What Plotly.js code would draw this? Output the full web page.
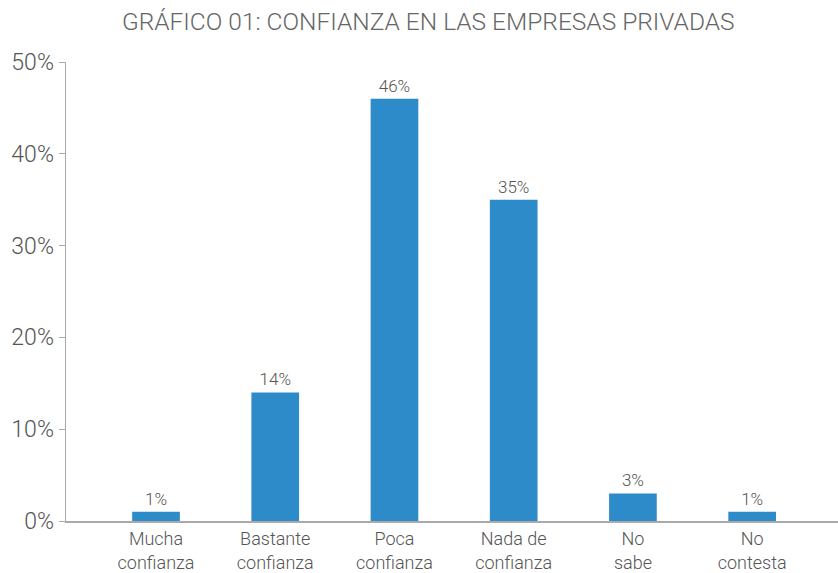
<!DOCTYPE html>
<html><head><meta charset="utf-8">
<script src="https://cdn.plot.ly/plotly-3.0.1.min.js"></script>
<style>html,body{margin:0;padding:0;background:#fff}</style>
</head><body><div id="chart" style="width:838px;height:573px"></div>
<script>
var categories = ["Mucha<br>confianza","Bastante<br>confianza","Poca<br>confianza","Nada de<br>confianza","No<br>sabe","No<br>contesta"];
var values = [1, 14, 46, 35, 3, 1];
var labels = ["1%","14%","46%","35%","3%","1%"];
var yTicks = [0,10,20,30,40,50];
var yTickText = ["0%","10%","20%","30%","40%","50%"];

var trace = {
  type: "bar", x: [0,1,2,3,4,5], y: values, text: labels, textposition: "outside",
  textfont: {family: "Roboto, sans-serif", size: 17, color: "#555", weight: 300},
  marker: {color: "#2E8BC9"}, width: 0.4, cliponaxis: false, hoverinfo: "none"
};
var layout = {
  width: 838, height: 573,
  margin: {l: 66, r: 0, t: 62, b: 52},
  paper_bgcolor: "#fff", plot_bgcolor: "#fff",
  title: {text: "GRÁFICO 01: CONFIANZA EN LAS EMPRESAS PRIVADAS", x: 0.511, xanchor: "center", y: 0.962, yanchor: "middle",
    font: {family: "Roboto, sans-serif", size: 24.5, color: "#666", weight: 300}},
  xaxis: {range: [-0.755, 5.72], tickvals: [0,1,2,3,4,5], ticktext: categories, showgrid: false, zeroline: false,
    showline: true, linecolor: "#aaa", linewidth: 1.5, ticks: "", ticklabelstandoff: 1,
    tickfont: {family: "Roboto, sans-serif", size: 18, color: "#555", weight: 300}},
  yaxis: {range: [0, 50], tickvals: yTicks, ticktext: yTickText, showgrid: false, zeroline: false,
    showline: true, linecolor: "#aaa", linewidth: 1.5, ticks: "outside", ticklen: 6, tickcolor: "#aaa",
    tickfont: {family: "Roboto, sans-serif", size: 23, color: "#555", weight: 300}},
  showlegend: false
};
Plotly.newPlot("chart", [trace], layout, {displayModeBar: false, staticPlot: true});
</script></body></html>
